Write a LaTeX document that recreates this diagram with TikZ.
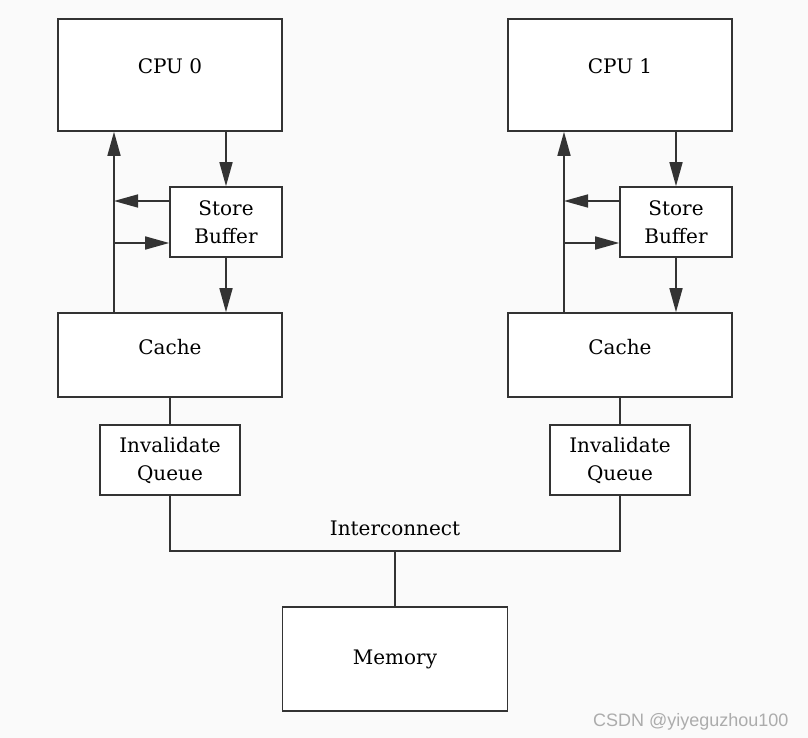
\documentclass[tikz,border=0pt]{standalone}
\usepackage{fontspec}
\setmainfont{DejaVu Serif}
\newfontfamily\marksans{Liberation Sans}
\usetikzlibrary{positioning,arrows.meta,calc}

\begin{document}
\begin{tikzpicture}[
    x=1pt, y=-1pt,
    font=\fontsize{20}{28}\selectfont,
    unit/.style={draw=black!80, line width=1.6pt, inner sep=0pt, align=center, fill=white},
    big/.style={unit, minimum width=224pt, minimum height=112pt, text height=14pt, text depth=16pt},
    buf/.style={unit, minimum width=112pt, minimum height=70pt},
    cachebox/.style={unit, minimum width=224pt, minimum height=84pt, text height=14pt, text depth=16pt},
    queue/.style={unit, minimum width=140pt, minimum height=70pt},
    wire/.style={draw=black!80, line width=1.6pt},
    arr/.style={wire, -{Triangle[length=24pt, width=13pt]}},
  ]
    % Page
    \fill[gray!4] (0,0) rectangle (808,738);
    \useasboundingbox (0,0) rectangle (808,738);

    % CPU 0 side
    \node[big]      (cpu0)   at (170,75)  {CPU 0};
    \node[buf]      (sb0)    at (226,222) {Store\\Buffer};
    \node[cachebox] (cache0) at (170,355) {Cache};
    \node[queue]    (iq0)    at (170,460) {Invalidate\\Queue};
    \coordinate (up0) at (114,0);

    % CPU 1 side
    \node[big]      (cpu1)   at (620,75)  {CPU 1};
    \node[buf]      (sb1)    at (676,222) {Store\\Buffer};
    \node[cachebox] (cache1) at (620,355) {Cache};
    \node[queue]    (iq1)    at (620,460) {Invalidate\\Queue};
    \coordinate (up1) at (564,0);

    % Memory and interconnect
    \node[unit, minimum width=225pt, minimum height=104pt] (mem) at (395,659) {Memory};
    \coordinate (hub) at (395,551);
    \node[anchor=base] (icn) at (395,535) {Interconnect};

    % Arrows, CPU 0
    \draw[arr] (up0 |- cache0.north) -- (up0 |- cpu0.south);
    \draw[arr] (cpu0.south -| sb0) -- (sb0.north);
    \draw[arr] (sb0.south) -- (sb0.south |- cache0.north);
    \draw[arr] ([yshift=21pt]sb0.west) -- ([yshift=21pt]sb0.west -| up0);
    \draw[arr] ([yshift=-21pt]sb0.west -| up0) -- ([yshift=-21pt]sb0.west);

    % Arrows, CPU 1
    \draw[arr] (up1 |- cache1.north) -- (up1 |- cpu1.south);
    \draw[arr] (cpu1.south -| sb1) -- (sb1.north);
    \draw[arr] (sb1.south) -- (sb1.south |- cache1.north);
    \draw[arr] ([yshift=21pt]sb1.west) -- ([yshift=21pt]sb1.west -| up1);
    \draw[arr] ([yshift=-21pt]sb1.west -| up1) -- ([yshift=-21pt]sb1.west);

    % Bus lines
    \draw[wire] (cache0.south) -- (iq0.north);
    \draw[wire] (cache1.south) -- (iq1.north);
    \draw[wire] (iq0.south) |- (hub) -| (iq1.south);
    \draw[wire] (hub) -- (mem.north);

    % Watermark
    \node[font=\marksans\fontsize{18}{20}\selectfont, text=gray!65, anchor=base east] (mark) at (792,726) {CSDN @yiyeguzhou100};
  \end{tikzpicture}
\end{document}
